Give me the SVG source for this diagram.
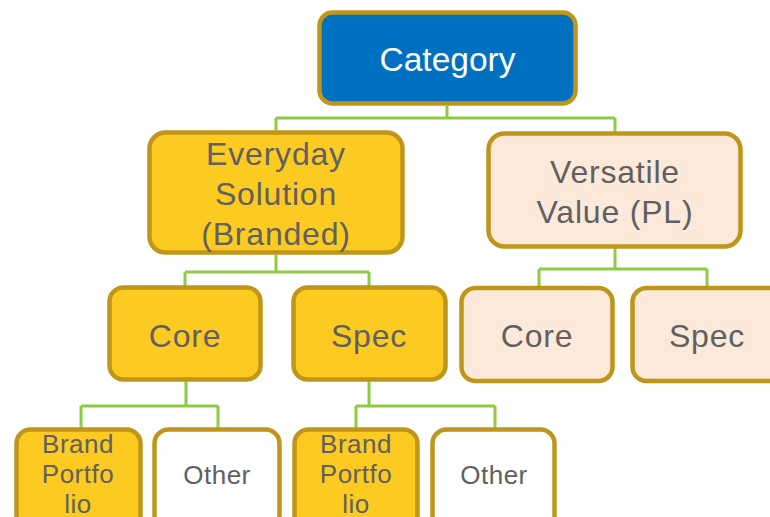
<svg xmlns="http://www.w3.org/2000/svg" width="770" height="517" viewBox="0 0 770 517">
<style>
.box{stroke:#BF9619;stroke-width:4.5}
.blue{fill:#0070C0}
.yel{fill:#FCCA21}
.peach{fill:#FDE9D9}
.white{fill:#FFFFFF}
.conn{fill:none;stroke:#8DCB45;stroke-width:3}
text{font-family:"Liberation Sans",Arial,sans-serif;text-anchor:middle;fill:#606060}
.t1{font-size:32px;letter-spacing:0.8px}
.t2{font-size:26px;letter-spacing:0.5px}
</style>
<rect width="770" height="517" fill="#FFFFFF"/>
<g id="connectors">
<path class="conn" d="M447 106V118M276 118H615M276 118V131M615 118V132"/>
<path class="conn" d="M276 255V272M185 272H369M185 272V286M369 272V286"/>
<path class="conn" d="M615 248V269M539 269H707M539 269V287M707 269V287"/>
<path class="conn" d="M186 381V406M81 406H218M81 406V428M218 406V428"/>
<path class="conn" d="M369 381V406M356 406H495M356 406V428M495 406V428"/>
</g>
<g id="category">
<rect class="box blue" x="319.5" y="12.5" width="256" height="91" rx="13"/>
<text x="447.5" y="71" style="fill:#FFFFFF;font-size:33.5px">Category</text>
</g>
<g id="everyday">
<rect class="box yel" x="149.5" y="132.5" width="253" height="120" rx="16"/>
<text class="t1" x="276" y="165">Everyday</text>
<text class="t1" x="276" y="205">Solution</text>
<text class="t1" x="276" y="245">(Branded)</text>
</g>
<g id="versatile">
<rect class="box peach" x="488.5" y="133.5" width="252" height="113" rx="16"/>
<text class="t1" x="615" y="183">Versatile</text>
<text class="t1" x="615" y="223">Value (PL)</text>
</g>
<g id="core-branded">
<rect class="box yel" x="109.5" y="287.5" width="151" height="92" rx="14"/>
<text class="t1" x="185" y="347">Core</text>
</g>
<g id="spec-branded">
<rect class="box yel" x="293.5" y="287.5" width="152" height="92" rx="14"/>
<text class="t1" x="369" y="347">Spec</text>
</g>
<g id="core-pl">
<rect class="box peach" x="461.5" y="288" width="151" height="93" rx="14"/>
<text class="t1" x="537" y="347">Core</text>
</g>
<g id="spec-pl">
<rect class="box peach" x="632.5" y="288" width="151" height="93" rx="14"/>
<text class="t1" x="707" y="347">Spec</text>
</g>
<g id="brand-portfolio-core">
<rect class="box yel" x="16.5" y="429.5" width="124" height="100" rx="14"/>
<text class="t2" x="78" y="453">Brand</text>
<text class="t2" x="78" y="483">Portfo</text>
<text class="t2" x="78" y="513">lio</text>
</g>
<g id="other-core">
<rect class="box white" x="154.5" y="429.5" width="125" height="100" rx="14"/>
<text class="t2" x="217" y="484">Other</text>
</g>
<g id="brand-portfolio-spec">
<rect class="box yel" x="294.5" y="429.5" width="123" height="100" rx="14"/>
<text class="t2" x="356" y="453">Brand</text>
<text class="t2" x="356" y="483">Portfo</text>
<text class="t2" x="356" y="513">lio</text>
</g>
<g id="other-spec">
<rect class="box white" x="432.5" y="429.5" width="122" height="100" rx="14"/>
<text class="t2" x="494" y="484">Other</text>
</g>
</svg>
